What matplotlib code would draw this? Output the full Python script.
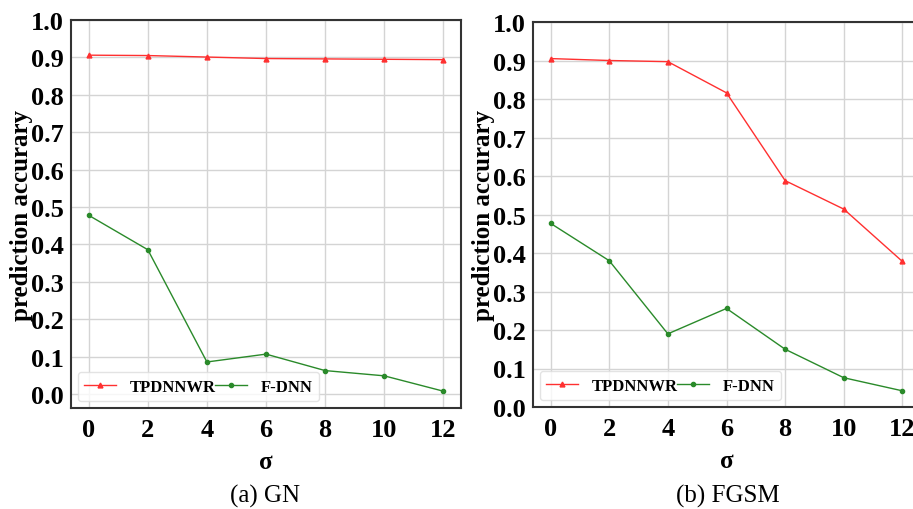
import matplotlib
matplotlib.use("Agg")
import matplotlib.pyplot as plt

sigma = [0, 2, 4, 6, 8, 10, 12]

# (a) GN
gn_tpdnnwr = [0.906, 0.905, 0.901, 0.897, 0.896, 0.895, 0.894]
gn_fdnn = [0.478, 0.386, 0.086, 0.107, 0.063, 0.049, 0.008]

# (b) FGSM
fgsm_tpdnnwr = [0.905, 0.900, 0.897, 0.816, 0.588, 0.514, 0.378]
fgsm_fdnn = [0.477, 0.380, 0.190, 0.256, 0.150, 0.076, 0.042]

yticks = [0.0, 0.1, 0.2, 0.3, 0.4, 0.5, 0.6, 0.7, 0.8, 0.9, 1.0]
xticks = [0, 2, 4, 6, 8, 10, 12]

plt.rcParams["font.family"] = ["Liberation Serif", "DejaVu Serif"]

fig = plt.figure(figsize=(9.13, 5.10), dpi=100)

panels = [
    ([71 / 913, 1 - 409 / 510, 390 / 913, 388 / 510], gn_tpdnnwr, gn_fdnn, (-0.037, 1.0), "(a) GN", 265 / 913),
    ([533 / 913, 1 - 408 / 510, 387 / 913, 385 / 510], fgsm_tpdnnwr, fgsm_fdnn, (0.0, 1.0), "(b) FGSM", 728 / 913),
]

for rect, tp, fd, ylim, caption, cx in panels:
    ax = fig.add_axes(rect)
    ax.grid(True, color="#d4d4d4", linewidth=1.0)
    ax.set_axisbelow(True)
    ax.plot(sigma, tp, color="#ff3030", linewidth=1.0, marker="^", markersize=3.5, label="TPDNNWR")
    ax.plot(sigma, fd, color="#2a8a2a", linewidth=1.0, marker="o", markersize=3.0, label="F-DNN")
    ax.set_xlim(-0.6, 12.6)
    ax.set_ylim(*ylim)
    ax.set_xticks(xticks)
    ax.set_yticks(yticks)
    ax.set_yticklabels([f"{v:.1f}" for v in yticks])
    ax.tick_params(axis="y", length=0, pad=5, labelsize=19)
    ax.tick_params(axis="x", length=0, pad=7, labelsize=19)
    for lab in ax.get_xticklabels() + ax.get_yticklabels():
        lab.set_fontweight("bold")
    for sp in ax.spines.values():
        sp.set_color("#333333")
        sp.set_linewidth(1.5)
    ax.set_xlabel("σ", fontsize=18, fontweight="bold")
    ax.xaxis.set_label_coords(0.5, -(451 - 409) / 388)
    ax.set_ylabel("prediction accurary", fontsize=18, fontweight="bold", va="center")
    ax.yaxis.set_label_coords(-0.127, 0.5)
    ax.legend(loc="lower left", ncol=2, prop={"weight": "bold", "size": 12},
              columnspacing=0.0, handlelength=1.9, handletextpad=0.8, borderaxespad=0.4,
              fancybox=True, framealpha=0.8, edgecolor="#dddddd")
    fig.text(cx, 1 - 496 / 510, caption, ha="center", va="center", fontsize=18)

fig.savefig("out.png", dpi=100)
